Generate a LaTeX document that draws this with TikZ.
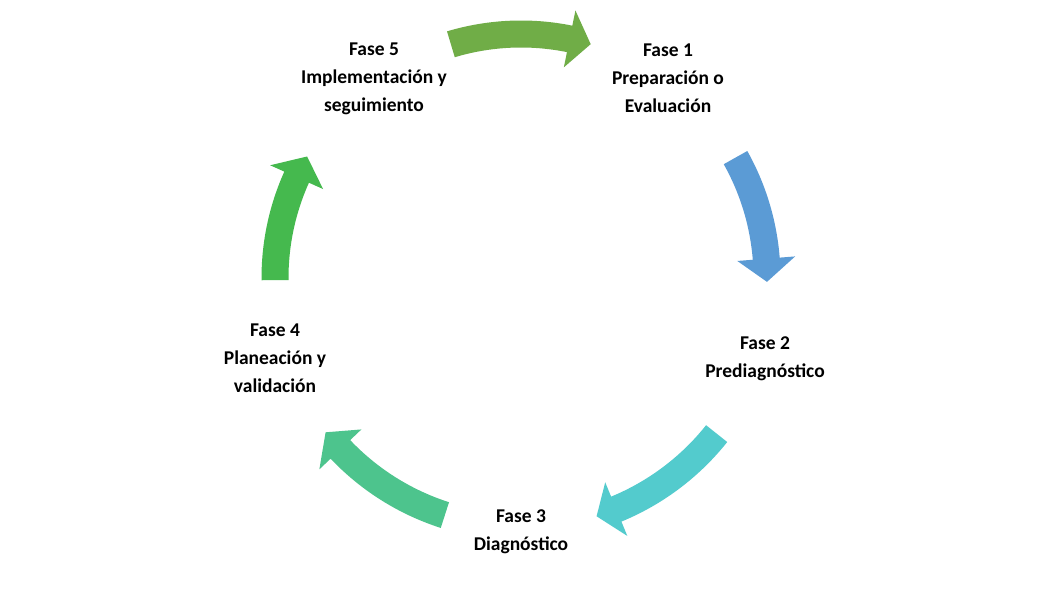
\documentclass[tikz,border=0pt]{standalone}
\usepackage{fontspec}
\setmainfont{Carlito}
\definecolor{cTop}{HTML}{70AD47}
\definecolor{cRight}{HTML}{5B9BD5}
\definecolor{cBR}{HTML}{53CBCD}
\definecolor{cBL}{HTML}{4DC48D}
\definecolor{cLeft}{HTML}{45B94E}
% #1 colour, #2 tail angle, #3 head base angle, #4 tip angle, #5 radius
\newcommand{\cyclearrow}[5]{%
  \fill[#1] (#2:#5+13.5) arc[start angle=#2, end angle=#3, radius=#5+13.5]
    -- (#3:#5+29) -- (#4:#5) -- (#3:#5-29) -- (#3:#5-13.5)
    arc[start angle=#3, end angle=#2, radius=#5-13.5] -- cycle;}
\begin{document}
\begin{tikzpicture}[x=1pt,y=1pt,
  phase/.style={align=center, font=\fontsize{19.5}{28}\selectfont\bfseries, inner sep=0pt}]
\fill[white] (0,0) rectangle (1042,607);
\useasboundingbox (0,0) rectangle (1042,607);
\begin{scope}[shift={(521,329)}]
  \cyclearrow{cTop}{106.7}{78.5}{73.4}{244}
  \cyclearrow{cRight}{29.3}{4.5}{-0.9}{246}
  \cyclearrow{cBR}{-38.5}{-67.6}{-72.4}{250}
  \cyclearrow{cBL}{-107.8}{-136.5}{-141.7}{249}
  \cyclearrow{cLeft}{180.5}{155.8}{150.4}{246}
\end{scope}
\node[phase] (f1) at (668,529) {Fase 1\\Preparación o\\Evaluación};
\node[phase] (f2) at (765,248) {Fase 2\\Prediagnóstico};
\node[phase] (f3) at (521,75.5) {Fase 3\\Diagnóstico};
\node[phase] (f4) at (275,248.5) {Fase 4\\Planeación y\\validación};
\node[phase] (f5) at (374,528.5) {Fase 5\\Implementación y\\seguimiento};
\end{tikzpicture}
\end{document}
